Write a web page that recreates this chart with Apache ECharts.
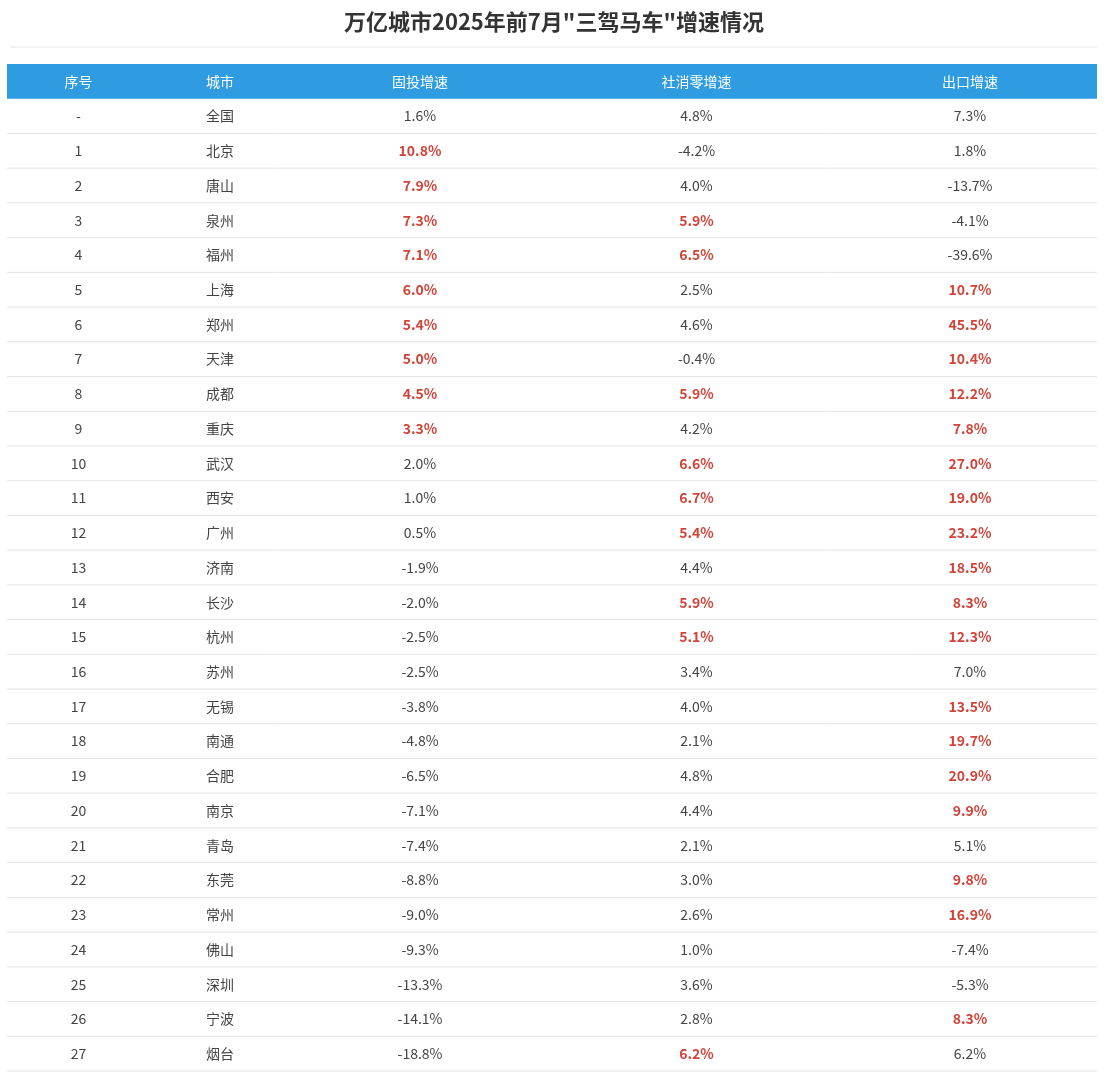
<!DOCTYPE html>
<html><head><meta charset="utf-8">
<script src="https://cdn.jsdelivr.net/npm/echarts@6/dist/echarts.min.js"></script>
<style>html,body{margin:0;padding:0;background:#fff}#c{width:1108px;height:1080px}</style>
</head><body><div id="c"></div>
<script>
const headers = ['序号','城市','固投增速','社消零增速','出口增速'];
const seq = ['-','1','2','3','4','5','6','7','8','9','10','11','12','13','14','15','16','17','18','19','20','21','22','23','24','25','26','27'];
const cities = ['全国','北京','唐山','泉州','福州','上海','郑州','天津','成都','重庆','武汉','西安','广州','济南','长沙','杭州','苏州','无锡','南通','合肥','南京','青岛','东莞','常州','佛山','深圳','宁波','烟台'];
const fixedInv = [1.6,10.8,7.9,7.3,7.1,6.0,5.4,5.0,4.5,3.3,2.0,1.0,0.5,-1.9,-2.0,-2.5,-2.5,-3.8,-4.8,-6.5,-7.1,-7.4,-8.8,-9.0,-9.3,-13.3,-14.1,-18.8];
const retail = [4.8,-4.2,4.0,5.9,6.5,2.5,4.6,-0.4,5.9,4.2,6.6,6.7,5.4,4.4,5.9,5.1,3.4,4.0,2.1,4.8,4.4,2.1,3.0,2.6,1.0,3.6,2.8,6.2];
const exportG = [7.3,1.8,-13.7,-4.1,-39.6,10.7,45.5,10.4,12.2,7.8,27.0,19.0,23.2,18.5,8.3,12.3,7.0,13.5,19.7,20.9,9.9,5.1,9.8,16.9,-7.4,-5.3,8.3,6.2];
const invRed    = [0,1,1,1,1,1,1,1,1,1,0,0,0,0,0,0,0,0,0,0,0,0,0,0,0,0,0,0];
const retailRed = [0,0,0,1,1,0,0,0,1,0,1,1,1,0,1,1,0,0,0,0,0,0,0,0,0,0,0,1];
const exportRed = [0,0,0,0,0,1,1,1,1,1,1,1,1,1,1,1,0,1,1,1,1,0,1,1,0,0,1,0];
const colEdges = [0,143,283,543,836,1090];

const fmt = v => v.toFixed(1) + '%';
const rows = [{h:true}].concat(cities.map((c,i)=>({i})));

const chart = echarts.init(document.getElementById('c'));
chart.setOption({
  animation:false,
  title:{text:'万亿城市2025年前7月"三驾马车"增速情况',left:'center',top:6,
    textStyle:{fontSize:22,fontWeight:'bold',color:'#333',fontFamily:'Noto Sans CJK SC'}},
  graphic:[{type:'line',shape:{x1:10,y1:47,x2:1097,y2:47},style:{stroke:'#e6e6e6',lineWidth:1}}],
  grid:{left:7,right:11,top:64,bottom:9},
  xAxis:{type:'value',min:0,max:1090,show:false},
  yAxis:{type:'value',min:0,max:29,inverse:true,show:false},
  series:[{
    type:'custom',
    data:rows.map((r,k)=>[k]),
    renderItem:function(params,api){
      const k=api.value(0);
      const r=rows[k];
      const p0=api.coord([0,k]), p1=api.coord([1090,k+1]);
      const ch=[];
      const cy=(p0[1]+p1[1])/2;
      if(r.h){
        ch.push({type:'rect',shape:{x:p0[0],y:p0[1],width:p1[0]-p0[0],height:p1[1]-p0[1]},style:{fill:'#2f9be0'}});
      } else {
        ch.push({type:'line',shape:{x1:p0[0],y1:p1[1],x2:p1[0],y2:p1[1]},style:{stroke:'#e4e4e4',lineWidth:1}});
      }
      let texts, reds;
      if(r.h){ texts=headers; reds=[0,0,0,0,0]; }
      else { const i=r.i; texts=[seq[i],cities[i],fmt(fixedInv[i]),fmt(retail[i]),fmt(exportG[i])]; reds=[0,0,invRed[i],retailRed[i],exportRed[i]]; }
      for(let c=0;c<5;c++){
        const cx=api.coord([(colEdges[c]+colEdges[c+1])/2,k])[0];
        ch.push({type:'text',x:cx,y:cy,style:{text:texts[c],textAlign:'center',textVerticalAlign:'middle',
          fontSize:14,fontFamily:'Noto Sans CJK SC',
          fontWeight:reds[c]?'bold':'normal',
          fill:r.h?'#ffffff':(reds[c]?'#d0453a':'#444')}});
      }
      return {type:'group',children:ch};
    }
  }]
});
</script></body></html>
